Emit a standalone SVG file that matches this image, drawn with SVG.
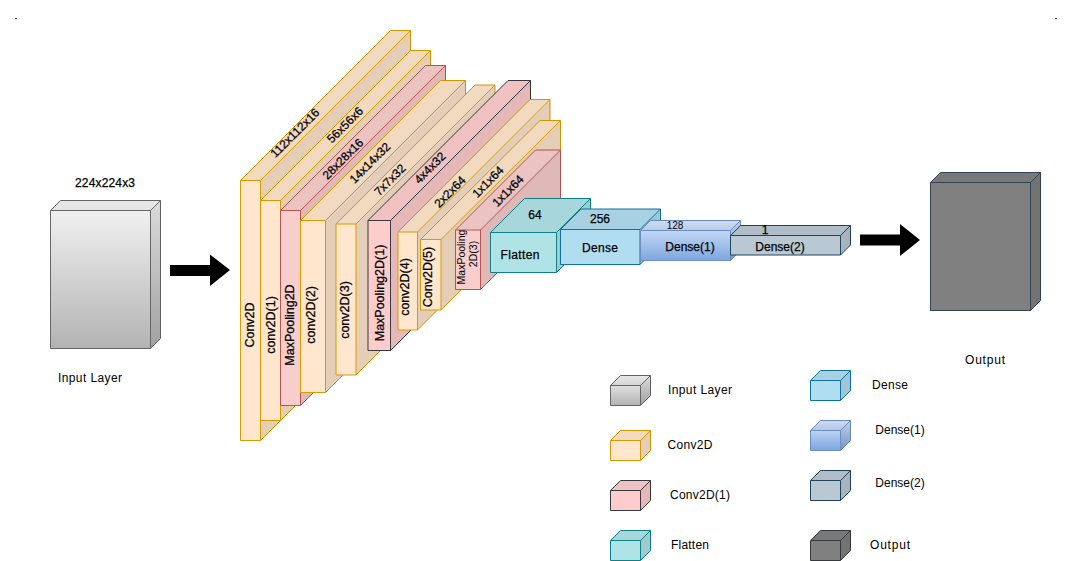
<svg xmlns="http://www.w3.org/2000/svg" width="1071" height="561" viewBox="0 0 1071 561">
<style>
text{font-family:"Liberation Sans",Arial,sans-serif;font-size:12px;fill:#000;text-anchor:middle;dominant-baseline:central}
.b{stroke:#000;stroke-width:.25px}
.r{font-size:12.500px}
.s{font-size:10px}
.m{font-size:10.500px}
.top{fill:#000;fill-opacity:.05}
.side{fill:#000;fill-opacity:.1}
.or{fill:#ffe6cc;stroke:#d79b00}
.rd{fill:#f8cecc;stroke:#b85450}
.pk{fill:#ffcccc;stroke:#36393d}
.te{fill:#b0e3e6;stroke:#0e8088}
.bl{fill:#b1ddf0;stroke:#10739e}
.db{fill:url(#gb);stroke:#6c8ebf}
.sl{fill:#bac8d3;stroke:#23445d}
.gy{fill:#808080;stroke:#314354}
.in{fill:url(#gg);stroke:#666666}
.dot{fill:#555}
</style>
<defs>
<linearGradient id="gg" x1="0" y1="0" x2="0" y2="1"><stop offset="0" stop-color="#f5f5f5"/><stop offset="1" stop-color="#b3b3b3"/></linearGradient>
<linearGradient id="gb" x1="0" y1="0" x2="0" y2="1"><stop offset="0" stop-color="#dae8fc"/><stop offset="1" stop-color="#7ea6e0"/></linearGradient>
</defs>
<rect width="1071" height="561" fill="#fff"/>
<rect class="dot" x="15" y="18" width="2" height="1"/>
<rect class="dot" x="1055" y="18" width="2" height="1"/>
<g id="connectors">
<path id="arrow-in" d="M170 265H210V254.500L230 270L210 286V276H170Z" fill="#000"/>
<path id="arrow-out" d="M860 234.500H900V224L920 240L900 256V245.500H860Z" fill="#000"/>
</g>
<g id="input-layer">
<path class="in" d="M50.500 210.500L60.500 200.500H160.500V338.500L150.500 348.500H50.500Z"/>
<path class="top" d="M50.500 210.500L60.500 200.500H160.500L150.500 210.500Z"/>
<path class="side" d="M150.500 210.500L160.500 200.500V338.500L150.500 348.500Z"/>
<path d="M50.500 210.500H150.500V348.500M150.500 210.500L160.500 200.500" fill="none" stroke="#666666"/>
<text x="105" y="183" class="b" textLength="60">224x224x3</text>
<text x="90" y="378" textLength="64">Input Layer</text>
</g>
<g id="conv2d">
<path class="or" d="M240.500 180.500L390.500 30.500H410.500V290.500L260.500 440.500H240.500Z"/>
<path class="top" d="M240.500 180.500L390.500 30.500H410.500L260.500 180.500Z"/>
<path class="side" d="M260.500 180.500L410.500 30.500V290.500L260.500 440.500Z"/>
<path d="M240.500 180.500H260.500V440.500M260.500 180.500L410.500 30.500" fill="none" stroke="#d79b00"/>
<text class="b r" transform="translate(250 325) rotate(-90)">Conv2D</text>
<text class="b" transform="translate(295 133) rotate(-45)">112x112x16</text>
</g>
<g id="conv2d-1">
<path class="or" d="M260.500 200.500L410.500 50.500H430.500V270.500L280.500 420.500H260.500Z"/>
<path class="top" d="M260.500 200.500L410.500 50.500H430.500L280.500 200.500Z"/>
<path class="side" d="M280.500 200.500L430.500 50.500V270.500L280.500 420.500Z"/>
<path d="M260.500 200.500H280.500V420.500M280.500 200.500L430.500 50.500" fill="none" stroke="#d79b00"/>
<text class="b r" transform="translate(270.500 325) rotate(-90)">conv2D(1)</text>
<text class="b" transform="translate(345 125) rotate(-45)">56x56x6</text>
</g>
<g id="maxpooling2d">
<path class="rd" d="M280.500 210.500L425.500 65.500H445.500V260.500L300.500 405.500H280.500Z"/>
<path class="top" d="M280.500 210.500L425.500 65.500H445.500L300.500 210.500Z"/>
<path class="side" d="M300.500 210.500L445.500 65.500V260.500L300.500 405.500Z"/>
<path d="M280.500 210.500H300.500V405.500M300.500 210.500L445.500 65.500" fill="none" stroke="#b85450"/>
<text class="b r" transform="translate(289.500 325) rotate(-90)">MaxPooling2D</text>
<text class="b" transform="translate(343 159) rotate(-45)">28x28x16</text>
</g>
<g id="conv2d-2">
<path class="or" d="M300.500 220.500L440.500 80.500H465.500V252.500L325.500 392.500H300.500Z"/>
<path class="top" d="M300.500 220.500L440.500 80.500H465.500L325.500 220.500Z"/>
<path class="side" d="M325.500 220.500L465.500 80.500V252.500L325.500 392.500Z"/>
<path d="M300.500 220.500H325.500V392.500M325.500 220.500L465.500 80.500" fill="none" stroke="#d79b00"/>
<text class="b r" transform="translate(311 315) rotate(-90)">conv2D(2)</text>
<text class="b" transform="translate(370 163) rotate(-45)">14x14x32</text>
</g>
<g id="conv2d-3">
<path class="or" d="M336 224L475 85H495V236L356 375H336Z"/>
<path class="top" d="M336 224L475 85H495L356 224Z"/>
<path class="side" d="M356 224L495 85V236L356 375Z"/>
<path d="M336 224H356V375M356 224L495 85" fill="none" stroke="#d79b00"/>
<text class="b r" transform="translate(345 310) rotate(-90)">conv2D(3)</text>
<text class="b" transform="translate(390 180) rotate(-45)">7x7x32</text>
</g>
<g id="maxpooling2d-1">
<path class="pk" d="M368 220.500L508 80.500H530.500V210.500L390.500 350.500H368Z"/>
<path class="top" d="M368 220.500L508 80.500H530.500L390.500 220.500Z"/>
<path class="side" d="M390.500 220.500L530.500 80.500V210.500L390.500 350.500Z"/>
<path d="M368 220.500H390.500V350.500M390.500 220.500L530.500 80.500" fill="none" stroke="#36393d"/>
<text class="b r" transform="translate(380 293) rotate(-90)">MaxPooling2D(1)</text>
<text class="b" transform="translate(430 168) rotate(-45)">4x4x32</text>
</g>
<g id="conv2d-4">
<path class="or" d="M398 232L530 99.500H550V197.500L417.500 330H398Z"/>
<path class="top" d="M398 232L530 99.500H550L417.500 232Z"/>
<path class="side" d="M417.500 232L550 99.500V197.500L417.500 330Z"/>
<path d="M398 232H417.500V330M417.500 232L550 99.500" fill="none" stroke="#d79b00"/>
<text class="b r" transform="translate(405 287) rotate(-90)">conv2D(4)</text>
<text class="b" transform="translate(450 192) rotate(-45)">2x2x64</text>
</g>
<g id="conv2d-5">
<path class="or" d="M420.500 239.500L540 120.500H560.500V190.500L441 310H420.500Z"/>
<path class="top" d="M420.500 239.500L540 120.500H560.500L441 239.500Z"/>
<path class="side" d="M441 239.500L560.500 120.500V190.500L441 310Z"/>
<path d="M420.500 239.500H441V310M441 239.500L560.500 120.500" fill="none" stroke="#d79b00"/>
<text class="b r" transform="translate(428 277) rotate(-90)">Conv2D(5)</text>
<text class="b" transform="translate(488 182) rotate(-45)">1x1x64</text>
</g>
<g id="maxpooling2d-3">
<path class="rd" d="M455.500 230L535.500 150H560.500V209.500L480.500 289.500H455.500Z"/>
<path class="top" d="M455.500 230L535.500 150H560.500L480.500 230Z"/>
<path class="side" d="M480.500 230L560.500 150V209.500L480.500 289.500Z"/>
<path d="M455.500 230H480.500V289.500M480.500 230L560.500 150" fill="none" stroke="#b85450"/>
<text class="m" transform="translate(461 257) rotate(-90)">MaxPooling</text>
<text class="m" transform="translate(473 254) rotate(-90)">2D(3)</text>
<text class="b" transform="translate(508 191) rotate(-45)">1x1x64</text>
</g>
<g id="flatten">
<path class="te" d="M490.500 232.500L524.500 198.500H590.500V238.500L556.500 272.500H490.500Z"/>
<path class="top" d="M490.500 232.500L524.500 198.500H590.500L556.500 232.500Z"/>
<path class="side" d="M556.500 232.500L590.500 198.500V238.500L556.500 272.500Z"/>
<path d="M490.500 232.500H556.500V272.500M556.500 232.500L590.500 198.500" fill="none" stroke="#0e8088"/>
<text class="b" x="535" y="215">64</text>
<text class="b" x="520" y="255" textLength="39">Flatten</text>
</g>
<g id="dense">
<path class="bl" d="M560.500 229.500L581 209H660.500V244L640 264.500H560.500Z"/>
<path class="top" d="M560.500 229.500L581 209H660.500L640 229.500Z"/>
<path class="side" d="M640 229.500L660.500 209V244L640 264.500Z"/>
<path d="M560.500 229.500H640V264.500M640 229.500L660.500 209" fill="none" stroke="#10739e"/>
<text class="b" x="600" y="219">256</text>
<text class="b" x="600" y="248" textLength="36">Dense</text>
</g>
<g id="dense-1">
<path class="db" d="M640.500 230.500L650.500 220.500H740.500V250.500L730.500 260.500H640.500Z"/>
<path class="top" d="M640.500 230.500L650.500 220.500H740.500L730.500 230.500Z"/>
<path class="side" d="M730.500 230.500L740.500 220.500V250.500L730.500 260.500Z"/>
<path d="M640.500 230.500H730.500V260.500M730.500 230.500L740.500 220.500" fill="none" stroke="#6c8ebf"/>
<text class="s" x="675" y="225">128</text>
<text class="b" x="690" y="247">Dense(1)</text>
</g>
<g id="dense-2">
<path class="sl" d="M730.500 235.500L740.500 225.500H850.500V245L840.500 255H730.500Z"/>
<path class="top" d="M730.500 235.500L740.500 225.500H850.500L840.500 235.500Z"/>
<path class="side" d="M840.500 235.500L850.500 225.500V245L840.500 255Z"/>
<path d="M730.500 235.500H840.500V255M840.500 235.500L850.500 225.500" fill="none" stroke="#23445d"/>
<text class="b" x="765" y="230">1</text>
<text class="b" x="780" y="247">Dense(2)</text>
</g>
<g id="output">
<path class="gy" d="M930.500 182.500L940.500 172.500H1040.500V300.500L1030.500 310.500H930.500Z"/>
<path class="top" d="M930.500 182.500L940.500 172.500H1040.500L1030.500 182.500Z"/>
<path class="side" d="M1030.500 182.500L1040.500 172.500V300.500L1030.500 310.500Z"/>
<path d="M930.500 182.500H1030.500V310.500M1030.500 182.500L1040.500 172.500" fill="none" stroke="#314354"/>
<text x="985" y="360" textLength="40">Output</text>
</g>
<g id="legend-input">
<path class="in" d="M610.500 385.500L620.500 375.500H650.500V395.500L640.500 405.500H610.500Z"/>
<path class="top" d="M610.500 385.500L620.500 375.500H650.500L640.500 385.500Z"/>
<path class="side" d="M640.500 385.500L650.500 375.500V395.500L640.500 405.500Z"/>
<path d="M610.500 385.500H640.500V405.500M640.500 385.500L650.500 375.500" fill="none" stroke="#666666"/>
<text x="700" y="390" textLength="64">Input Layer</text>
</g>
<g id="legend-conv2d">
<path class="or" d="M610.500 440.500L620.500 430.500H650.500V450.500L640.500 460.500H610.500Z"/>
<path class="top" d="M610.500 440.500L620.500 430.500H650.500L640.500 440.500Z"/>
<path class="side" d="M640.500 440.500L650.500 430.500V450.500L640.500 460.500Z"/>
<path d="M610.500 440.500H640.500V460.500M640.500 440.500L650.500 430.500" fill="none" stroke="#d79b00"/>
<text x="690" y="445" textLength="45">Conv2D</text>
</g>
<g id="legend-conv2d-1">
<path class="pk" d="M610.500 490.500L620.500 480.500H650.500V500.500L640.500 510.500H610.500Z"/>
<path class="top" d="M610.500 490.500L620.500 480.500H650.500L640.500 490.500Z"/>
<path class="side" d="M640.500 490.500L650.500 480.500V500.500L640.500 510.500Z"/>
<path d="M610.500 490.500H640.500V510.500M640.500 490.500L650.500 480.500" fill="none" stroke="#36393d"/>
<text x="700" y="495" textLength="60">Conv2D(1)</text>
</g>
<g id="legend-flatten">
<path class="te" d="M610.500 540.500L620.500 530.500H650.500V550.500L640.500 560.500H610.500Z"/>
<path class="top" d="M610.500 540.500L620.500 530.500H650.500L640.500 540.500Z"/>
<path class="side" d="M640.500 540.500L650.500 530.500V550.500L640.500 560.500Z"/>
<path d="M610.500 540.500H640.500V560.500M640.500 540.500L650.500 530.500" fill="none" stroke="#0e8088"/>
<text x="690" y="545" textLength="38">Flatten</text>
</g>
<g id="legend-dense">
<path class="bl" d="M810.500 380.500L820.500 370.500H850.500V390.500L840.500 400.500H810.500Z"/>
<path class="top" d="M810.500 380.500L820.500 370.500H850.500L840.500 380.500Z"/>
<path class="side" d="M840.500 380.500L850.500 370.500V390.500L840.500 400.500Z"/>
<path d="M810.500 380.500H840.500V400.500M840.500 380.500L850.500 370.500" fill="none" stroke="#10739e"/>
<text x="890" y="385" textLength="36">Dense</text>
</g>
<g id="legend-dense-1">
<path class="db" d="M810.500 430.500L820.500 420.500H850.500V440.500L840.500 450.500H810.500Z"/>
<path class="top" d="M810.500 430.500L820.500 420.500H850.500L840.500 430.500Z"/>
<path class="side" d="M840.500 430.500L850.500 420.500V440.500L840.500 450.500Z"/>
<path d="M810.500 430.500H840.500V450.500M840.500 430.500L850.500 420.500" fill="none" stroke="#6c8ebf"/>
<text x="900" y="430">Dense(1)</text>
</g>
<g id="legend-dense-2">
<path class="sl" d="M810.500 480.500L820.500 470.500H850.500V490.500L840.500 500.500H810.500Z"/>
<path class="top" d="M810.500 480.500L820.500 470.500H850.500L840.500 480.500Z"/>
<path class="side" d="M840.500 480.500L850.500 470.500V490.500L840.500 500.500Z"/>
<path d="M810.500 480.500H840.500V500.500M840.500 480.500L850.500 470.500" fill="none" stroke="#23445d"/>
<text x="900" y="483">Dense(2)</text>
</g>
<g id="legend-output">
<path class="gy" style="stroke:#36393d" d="M810.500 540.500L820.500 530.500H850.500V550.500L840.500 560.500H810.500Z"/>
<path class="top" d="M810.500 540.500L820.500 530.500H850.500L840.500 540.500Z"/>
<path class="side" d="M840.500 540.500L850.500 530.500V550.500L840.500 560.500Z"/>
<path d="M810.500 540.500H840.500V560.500M840.500 540.500L850.500 530.500" fill="none" stroke="#36393d"/>
<text x="890" y="545" textLength="40">Output</text>
</g>
</svg>
